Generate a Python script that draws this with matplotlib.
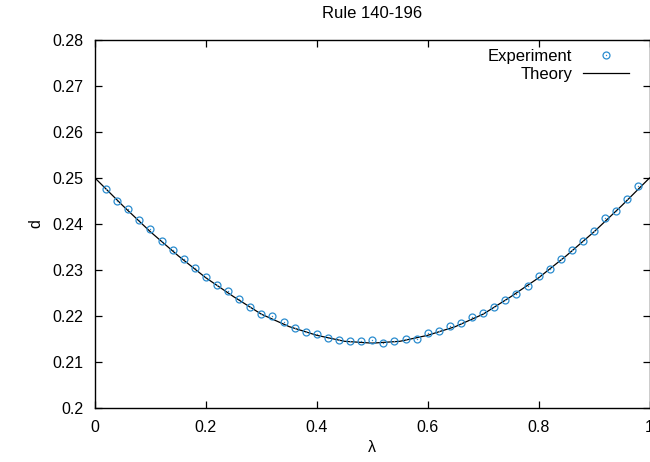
import numpy as np
import matplotlib
matplotlib.use("Agg")
import matplotlib.pyplot as plt
from matplotlib.legend_handler import HandlerTuple

# donnees
lam_exp = [0.02, 0.04, 0.06, 0.08, 0.10, 0.12, 0.14, 0.16, 0.18, 0.20,
           0.22, 0.24, 0.26, 0.28, 0.30, 0.32, 0.34, 0.36, 0.38, 0.40,
           0.42, 0.44, 0.46, 0.48, 0.50, 0.52, 0.54, 0.56, 0.58, 0.60,
           0.62, 0.64, 0.66, 0.68, 0.70, 0.72, 0.74, 0.76, 0.78, 0.80,
           0.82, 0.84, 0.86, 0.88, 0.90, 0.92, 0.94, 0.96, 0.98]
d_exp = [0.2477, 0.2451, 0.2433, 0.2408, 0.2390, 0.2363, 0.2343, 0.2323, 0.2304, 0.2285,
         0.2267, 0.2254, 0.2237, 0.2219, 0.2204, 0.2199, 0.2187, 0.2175, 0.2166, 0.2161,
         0.2152, 0.2148, 0.2145, 0.2146, 0.2147, 0.2142, 0.2146, 0.2151, 0.2151, 0.2163,
         0.2167, 0.2178, 0.2185, 0.2198, 0.2207, 0.2219, 0.2235, 0.2248, 0.2266, 0.2286,
         0.2303, 0.2325, 0.2343, 0.2363, 0.2385, 0.2412, 0.2429, 0.2454, 0.2482]

lam_th = [0.00, 0.05, 0.10, 0.15, 0.20, 0.25, 0.30, 0.35, 0.40, 0.45, 0.50,
          0.55, 0.60, 0.65, 0.70, 0.75, 0.80, 0.85, 0.90, 0.95, 1.00]
d_th = [0.2500, 0.2440, 0.2383, 0.2331, 0.2283, 0.2242, 0.2204, 0.2177, 0.2158, 0.2145, 0.2141,
        0.2145, 0.2158, 0.2177, 0.2204, 0.2242, 0.2283, 0.2331, 0.2383, 0.2440, 0.2500]

xticks = [0, 0.2, 0.4, 0.6, 0.8, 1.0]
xlabels = ["0", "0.2", "0.4", "0.6", "0.8", "1"]
yticks = [0.20, 0.21, 0.22, 0.23, 0.24, 0.25, 0.26, 0.27, 0.28]
ylabels = ["0.2", "0.21", "0.22", "0.23", "0.24", "0.25", "0.26", "0.27", "0.28"]

BLEU = "#2a8ccf"

plt.rcParams["font.family"] = ["Liberation Sans", "DejaVu Sans"]

fig = plt.figure(figsize=(6.5, 4.62), dpi=100)
ax = fig.add_axes([95 / 650, 54 / 462, 554.5 / 650, 368 / 462])

ligne, = ax.plot(lam_th, d_th, color="black", lw=0.9)
cercles, = ax.plot(lam_exp, d_exp, "o", mfc="none", mec=BLEU, mew=0.9, ms=5.0)
points, = ax.plot(lam_exp, d_exp, "o", color=BLEU, ms=1.0, mew=0)

ax.set_xlim(0, 1)
ax.set_ylim(0.2, 0.28)
ax.set_xticks(xticks, xlabels)
ax.set_yticks(yticks, ylabels)
ax.tick_params(direction="in", length=5, width=0.9, top=True, right=True,
               labelsize=11.5, pad=8.5)
for sp in ax.spines.values():
    sp.set_linewidth(1.0)

ax.set_xlabel("λ", fontsize=11.5, labelpad=4)
ax.set_ylabel("d", fontsize=11.5, labelpad=6)
ax.set_title("Rule 140-196", fontsize=12, pad=16)

# legende facon gnuplot : texte aligne a droite, symbole a droite
leg = ax.legend([(cercles, points), ligne], ["Experiment", "Theory"],
                handler_map={tuple: HandlerTuple(ndivide=1)},
                loc="upper right", bbox_to_anchor=(0.975, 0.995), frameon=False,
                markerfirst=False, fontsize=12, handlelength=2.75,
                handletextpad=0.66, labelspacing=0.2, borderaxespad=0.0,
                borderpad=0.4)
leg._legend_handle_box.get_children()[0].align = "right"

fig.savefig("out.png", dpi=100)
